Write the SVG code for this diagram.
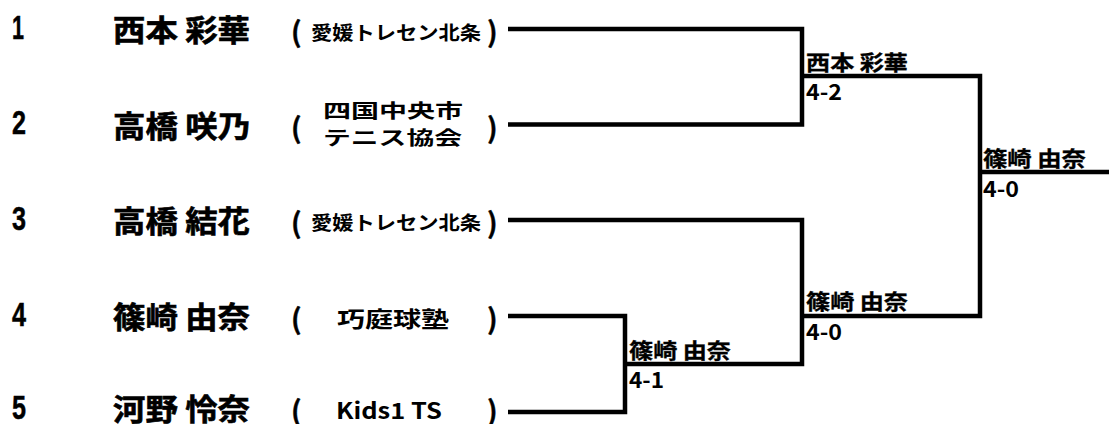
<svg xmlns="http://www.w3.org/2000/svg" width="1109" height="424" viewBox="0 0 1109 424">
<style>
text{font-family:"Noto Sans CJK JP","Liberation Sans",sans-serif;font-weight:bold;fill:#000;dominant-baseline:central}
.num{font-family:"Liberation Sans",sans-serif;font-size:34px;stroke:#000;stroke-width:0.5}
.name{font-size:30px;stroke:#000;stroke-width:0.6}
.paren{font-size:28px;stroke:#000;stroke-width:0.4}
.club{font-size:19px}
.clubL{font-size:22px}
.win{font-size:21px;stroke:#000;stroke-width:0.3}
.score{font-size:22px}
.ln{fill:none;stroke:#000;stroke-width:4.5;stroke-linejoin:miter;stroke-linecap:butt}
</style>
<rect width="1109" height="424" fill="#fff"/>
<g id="connectors">
<path class="ln" d="M508,29 H802 V124.5 H508"/>
<path class="ln" d="M802,76 H980 V316 H802"/>
<path class="ln" d="M508,220 H802 V364 H625"/>
<path class="ln" d="M508,316 H625 V412 H508"/>
<path class="ln" d="M980,172 H1109"/>
</g>
<g id="p1">
<text class="num" x="12" y="26.5" textLength="12" lengthAdjust="spacingAndGlyphs">1</text>
<text class="name" x="113" y="27.5" textLength="137" lengthAdjust="spacingAndGlyphs">西本 彩華</text>
<text class="paren" x="291" y="30">(</text>
<text class="club" x="311" y="31" textLength="170" lengthAdjust="spacingAndGlyphs">愛媛トレセン北条</text>
<text class="paren" x="487" y="30">)</text>
</g>
<g id="p2">
<text class="num" x="12" y="122" textLength="14" lengthAdjust="spacingAndGlyphs">2</text>
<text class="name" x="113" y="123.5" textLength="137" lengthAdjust="spacingAndGlyphs">高橋 咲乃</text>
<text class="paren" x="291" y="126">(</text>
<text class="club" x="323" y="109.5" textLength="140" lengthAdjust="spacingAndGlyphs">四国中央市</text>
<text class="club" x="323" y="136" textLength="139" lengthAdjust="spacingAndGlyphs">テニス協会</text>
<text class="paren" x="487" y="126">)</text>
</g>
<g id="p3">
<text class="num" x="12" y="217.5" textLength="14" lengthAdjust="spacingAndGlyphs">3</text>
<text class="name" x="113" y="219" textLength="137" lengthAdjust="spacingAndGlyphs">高橋 結花</text>
<text class="paren" x="291" y="221">(</text>
<text class="club" x="311" y="221" textLength="170" lengthAdjust="spacingAndGlyphs">愛媛トレセン北条</text>
<text class="paren" x="487" y="221">)</text>
</g>
<g id="p4">
<text class="num" x="12" y="313.5" textLength="14" lengthAdjust="spacingAndGlyphs">4</text>
<text class="name" x="113" y="315" textLength="137" lengthAdjust="spacingAndGlyphs">篠崎 由奈</text>
<text class="paren" x="291" y="317">(</text>
<text class="clubL" x="337" y="317" textLength="112" lengthAdjust="spacingAndGlyphs">巧庭球塾</text>
<text class="paren" x="487" y="317">)</text>
</g>
<g id="p5">
<text class="num" x="12" y="406.5" textLength="14" lengthAdjust="spacingAndGlyphs">5</text>
<text class="name" x="113" y="407" textLength="137" lengthAdjust="spacingAndGlyphs">河野 怜奈</text>
<text class="paren" x="291" y="409">(</text>
<text class="clubL" x="336" y="409" textLength="106" lengthAdjust="spacingAndGlyphs">Kids1 TS</text>
<text class="paren" x="487" y="409">)</text>
</g>
<g id="m1">
<text class="win" x="806" y="60.5" textLength="102" lengthAdjust="spacingAndGlyphs">西本 彩華</text>
<text class="score" x="806" y="90" textLength="36" lengthAdjust="spacingAndGlyphs">4-2</text>
</g>
<g id="m2">
<text class="win" x="629" y="349" textLength="102" lengthAdjust="spacingAndGlyphs">篠崎 由奈</text>
<text class="score" x="629" y="378" textLength="35" lengthAdjust="spacingAndGlyphs">4-1</text>
</g>
<g id="m3">
<text class="win" x="806" y="300" textLength="102" lengthAdjust="spacingAndGlyphs">篠崎 由奈</text>
<text class="score" x="806" y="330" textLength="36" lengthAdjust="spacingAndGlyphs">4-0</text>
</g>
<g id="m4">
<text class="win" x="983" y="157" textLength="103" lengthAdjust="spacingAndGlyphs">篠崎 由奈</text>
<text class="score" x="983" y="186.5" textLength="36" lengthAdjust="spacingAndGlyphs">4-0</text>
</g>
</svg>
